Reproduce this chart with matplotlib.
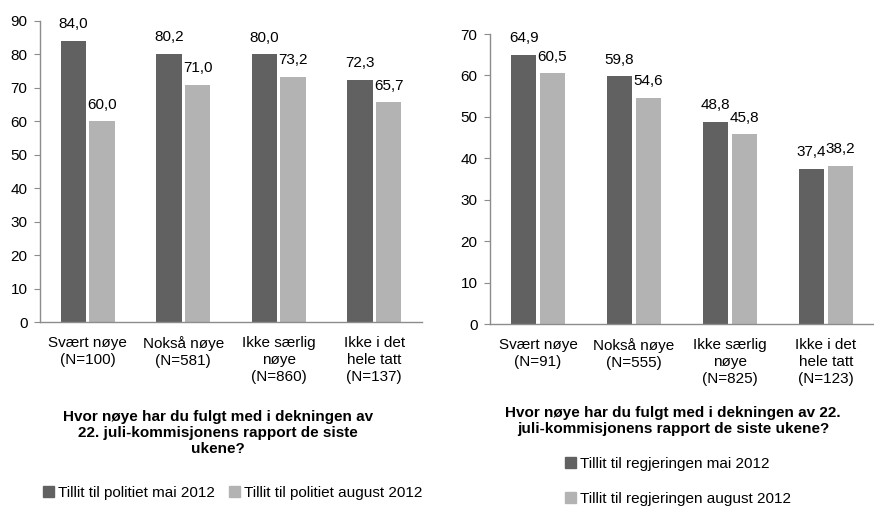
import matplotlib
matplotlib.use("Agg")
import matplotlib.pyplot as plt
import numpy as np
from matplotlib.patches import Patch

plt.rcParams.update({
    "font.family": ["Liberation Sans", "DejaVu Sans"],
    "font.size": 11,
    "axes.linewidth": 1.0,
})

# -------------------------
# Data
# -------------------------
cats_left = ["Svært nøye\n(N=100)", "Nokså nøye\n(N=581)", "Ikke særlig\nnøye\n(N=860)", "Ikke i det\nhele tatt\n(N=137)"]
cats_right = ["Svært nøye\n(N=91)", "Nokså nøye\n(N=555)", "Ikke særlig\nnøye\n(N=825)", "Ikke i det\nhele tatt\n(N=123)"]

politi_mai = [84.0, 80.2, 80.0, 72.3]
politi_aug = [60.0, 71.0, 73.2, 65.7]
regj_mai = [64.9, 59.8, 48.8, 37.4]
regj_aug = [60.5, 54.6, 45.8, 38.2]

left_ticks = list(range(0, 91, 10))
right_ticks = list(range(0, 71, 10))

title_left = "Hvor nøye har du fulgt med i dekningen av\n22. juli-kommisjonens rapport de siste\nukene?"
title_right = "Hvor nøye har du fulgt med i dekningen av 22.\njuli-kommisjonens rapport de siste ukene?"

legend_left = ["Tillit til politiet mai 2012", "Tillit til politiet august 2012"]
legend_right = ["Tillit til regjeringen mai 2012", "Tillit til regjeringen august 2012"]

DARK = "#616161"
LIGHT = "#B3B3B3"
AXIS = "#8C8C8C"

W, H = 874, 507
fig = plt.figure(figsize=(W / 100, H / 100), dpi=100)


def px_axes(x0, x1, y_top, y_bot):
    return fig.add_axes([x0 / W, 1 - y_bot / H, (x1 - x0) / W, (y_bot - y_top) / H])


def fmt(v):
    return f"{v:.1f}".replace(".", ",")


def draw_panel(ax, cats, s1, s2, ticks):
    x = np.arange(len(cats))
    w = 0.265
    gap = 0.035
    b1 = ax.bar(x - (w + gap) / 2, s1, width=w, color=DARK, zorder=2)
    b2 = ax.bar(x + (w + gap) / 2, s2, width=w, color=LIGHT, zorder=2)
    ax.bar_label(b1, labels=[fmt(v) for v in s1], padding=7, fontsize=11)
    ax.bar_label(b2, labels=[fmt(v) for v in s2], padding=7, fontsize=11)
    ax.set_xlim(-0.5, len(cats) - 0.5)
    ax.set_ylim(0, ticks[-1])
    ax.set_yticks(ticks)
    ax.set_xticks(x)
    ax.set_xticklabels(cats, fontsize=11, linespacing=1.3, va="top")
    for s in ["top", "right"]:
        ax.spines[s].set_visible(False)
    ax.spines["left"].set_color(AXIS)
    ax.spines["bottom"].set_color(AXIS)
    ax.tick_params(axis="y", length=4, color=AXIS, pad=5, labelsize=11)
    ax.tick_params(axis="x", length=0, pad=10)
    return b1, b2


ax1 = px_axes(40, 422, 21, 322)
draw_panel(ax1, cats_left, politi_mai, politi_aug, left_ticks)

ax2 = px_axes(490, 874, 34, 324)
draw_panel(ax2, cats_right, regj_mai, regj_aug, right_ticks)

fig.text(218 / W, 1 - 410 / H, title_left, ha="center", va="top",
         fontsize=11, fontweight="bold", linespacing=1.2)
fig.text(673 / W, 1 - 406 / H, title_right, ha="center", va="top",
         fontsize=11, fontweight="bold", linespacing=1.2)

fig.legend([Patch(color=DARK), Patch(color=LIGHT)], legend_left,
           loc="center left", bbox_to_anchor=(43 / W, 1 - 493 / H), ncol=2,
           frameon=False, fontsize=11, handlelength=0.7, handleheight=0.7,
           handletextpad=0.3, columnspacing=0.9, borderpad=0, borderaxespad=0)

fig.legend([Patch(color=DARK), Patch(color=LIGHT)], legend_right,
           loc="upper left", bbox_to_anchor=(565 / W, 1 - 457 / H), ncol=1,
           frameon=False, fontsize=11, handlelength=0.7, handleheight=0.7,
           handletextpad=0.3, labelspacing=1.35, borderpad=0, borderaxespad=0)

fig.savefig("out.png", dpi=100)
